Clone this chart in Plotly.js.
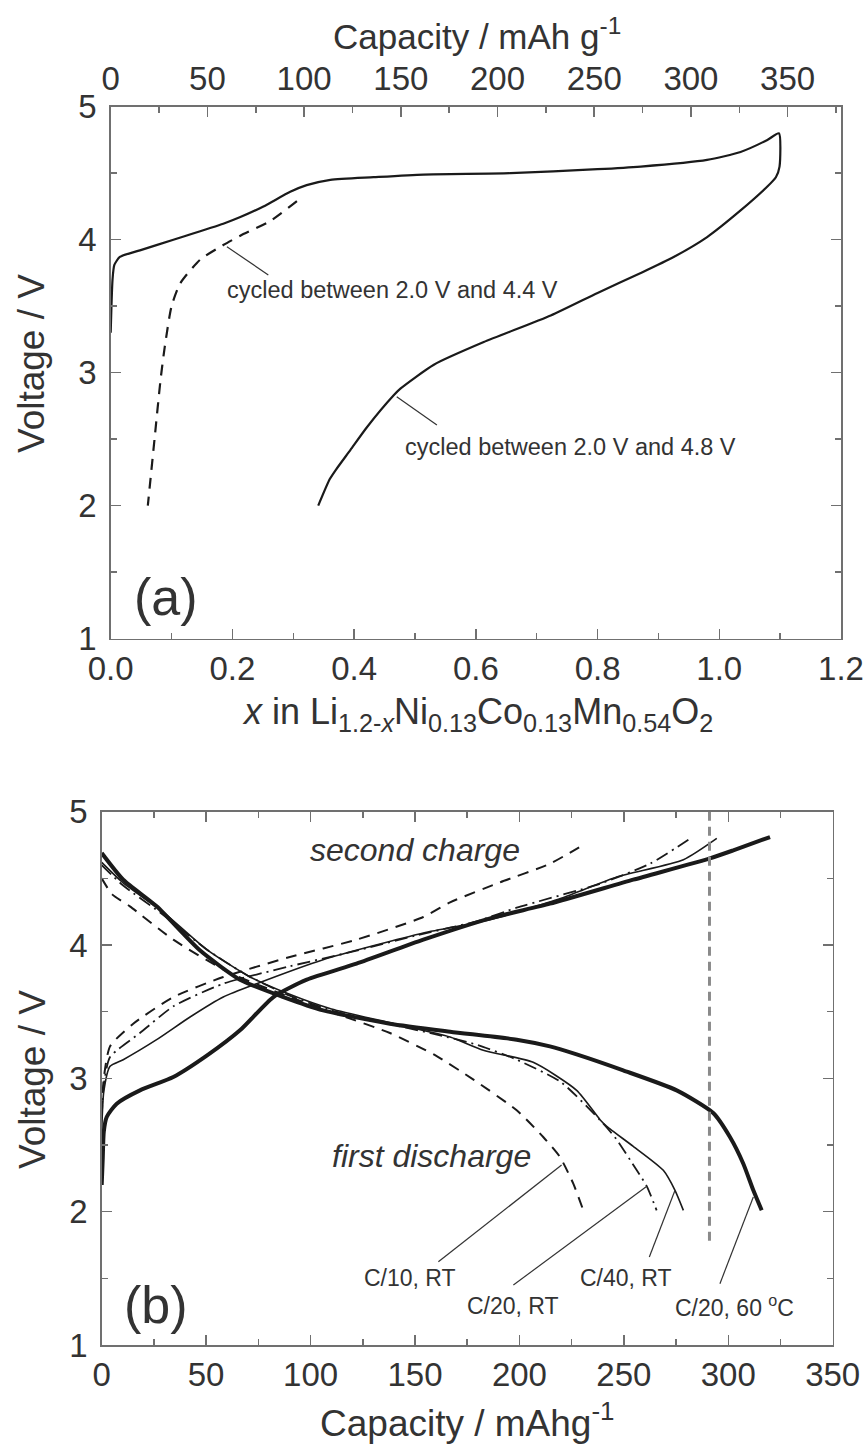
<!DOCTYPE html>
<html><head><meta charset="utf-8">
<script src="https://cdn.plot.ly/plotly-3.0.1.min.js"></script>
<style>html,body{margin:0;padding:0;background:#fff}</style>
</head><body>
<div id="chart" style="width:863px;height:1447px"></div>
<script>
// ---------- Panel (a) data ----------
const a48X = [0, 0.003, 0.006, 0.015, 0.048, 0.103, 0.185, 0.213, 0.251, 0.295, 0.322, 0.361, 0.432, 0.514, 0.657, 0.80, 0.871, 0.98, 1.035, 1.079, 1.098, 1.099, 1.093, 1.079, 1.035, 0.98, 0.925, 0.871, 0.80, 0.723, 0.613, 0.531, 0.476, 0.465, 0.421, 0.394, 0.37, 0.36, 0.341];
const a48V = [3.3, 3.7, 3.81, 3.87, 3.92, 4.0, 4.12, 4.17, 4.25, 4.36, 4.41, 4.45, 4.47, 4.49, 4.5, 4.53, 4.55, 4.6, 4.66, 4.75, 4.8, 4.55, 4.47, 4.40, 4.22, 4.02, 3.87, 3.75, 3.6, 3.43, 3.23, 3.06, 2.88, 2.83, 2.59, 2.42, 2.27, 2.2, 2.0];
const a44X = [0.306, 0.262, 0.213, 0.185, 0.147, 0.114, 0.1, 0.089, 0.082, 0.072, 0.061];
const a44V = [4.29, 4.14, 4.03, 3.96, 3.85, 3.67, 3.5, 3.2, 2.95, 2.5, 2.0];

// ---------- Panel (b) data ----------
const c10DisX = [0, 5, 13.5, 34.3, 61.4, 90.1, 115, 138, 160, 178, 198.7, 211.4, 219.4, 225.8, 230.6];
const c10DisV = [4.5, 4.38, 4.29, 4.04, 3.79, 3.61, 3.47, 3.34, 3.17, 2.99, 2.76, 2.56, 2.41, 2.21, 2.01];
const c10ChX = [0, 1, 4, 15.1, 34.3, 58.2, 90.1, 122, 154, 166.8, 190.7, 214.6, 230.4];
const c10ChV = [2.75, 3.0, 3.24, 3.41, 3.61, 3.76, 3.91, 4.04, 4.21, 4.32, 4.47, 4.61, 4.75];

const c20DisX = [0, 10, 30, 50, 70, 90, 110, 140, 160, 180, 198.7, 220, 240.2, 246.6, 256.2, 261, 265.7];
const c20DisV = [4.6, 4.45, 4.22, 3.97, 3.77, 3.62, 3.51, 3.4, 3.33, 3.25, 3.14, 2.97, 2.66, 2.54, 2.31, 2.19, 2.01];
const c20ChX = [0, 1, 4, 18.3, 34.3, 58.2, 90, 120, 150, 180, 198.7, 238.6, 262.5, 280.9];
const c20ChV = [2.7, 2.95, 3.16, 3.34, 3.54, 3.71, 3.84, 3.95, 4.07, 4.18, 4.28, 4.46, 4.61, 4.79];

const c40DisX = [0, 10, 30, 50, 70, 90, 110, 140, 166.8, 182.7, 206.6, 227.4, 238.6, 241.8, 254.5, 268.9, 274.5, 278.5];
const c40DisV = [4.62, 4.47, 4.24, 3.97, 3.77, 3.63, 3.52, 3.41, 3.31, 3.21, 3.12, 2.91, 2.69, 2.64, 2.49, 2.31, 2.16, 2.01];
const c40ChX = [0, 1, 4, 10.3, 26.3, 42.3, 58.2, 74.2, 106, 154, 186, 220, 246.6, 278.5, 294.5];
const c40ChV = [2.6, 2.9, 3.09, 3.14, 3.29, 3.46, 3.61, 3.71, 3.89, 4.09, 4.19, 4.35, 4.51, 4.64, 4.80];

const h60DisX = [0, 10.3, 26.3, 47, 66.2, 87, 106, 138, 166.8, 198.7, 214.6, 227.4, 249.7, 275.3, 292.8, 300.8, 307.2, 312, 316];
const h60DisV = [4.69, 4.49, 4.29, 3.96, 3.74, 3.61, 3.51, 3.41, 3.35, 3.29, 3.24, 3.18, 3.06, 2.91, 2.74, 2.56, 2.36, 2.16, 2.01];
const h60ChX = [0, 0.5, 1, 2.4, 7.2, 18.3, 34.3, 50.3, 66.2, 82.2, 98.2, 122, 154, 186, 214.6, 254.5, 291.2, 302.4, 320];
const h60ChV = [2.2, 2.4, 2.6, 2.71, 2.81, 2.91, 3.01, 3.17, 3.36, 3.61, 3.74, 3.86, 4.04, 4.2, 4.31, 4.49, 4.65, 4.71, 4.81];

const refLineX = [291, 291];
const refLineV = [5, 1.74];

// tick labels / ranges
const xTicksA = [0, 0.2, 0.4, 0.6, 0.8, 1.0, 1.2];
const xTickTextA = ['0.0', '0.2', '0.4', '0.6', '0.8', '1.0', '1.2'];
const capTopMax = 377.6;   // capacity matching x = 1.2
const capTopTicks = [0, 50, 100, 150, 200, 250, 300, 350];
const capTicksB = [0, 50, 100, 150, 200, 250, 300, 350];
const vTicks = [1, 2, 3, 4, 5];

const INK = '#1a1a1a';
const AXC = '#707070';
const TXT = '#333333';
const FONT = 'Liberation Sans, Arial, sans-serif';

function tr(x, y, xa, ya, width, dash) {
  return {x: x, y: y, xaxis: xa, yaxis: ya, mode: 'lines', type: 'scatter',
    line: {color: INK, width: width, dash: dash || 'solid', shape: 'spline', smoothing: 0.6},
    hoverinfo: 'skip', showlegend: false};
}

const DASH = '11px,8px';
const DASHDOT = '13px,5px,2px,5px';

const data = [
  tr(a48X, a48V, 'x', 'y', 2.2),
  tr(a44X, a44V, 'x', 'y', 2.2, DASH),
  // helper (no visible mark) so the top capacity axis is created
  {x: [0, capTopMax], y: [null, null], xaxis: 'x2', yaxis: 'y', mode: 'lines', type: 'scatter',
   line: {width: 0}, hoverinfo: 'skip', showlegend: false},
  tr(c10DisX, c10DisV, 'x3', 'y3', 2, DASH),
  tr(c10ChX, c10ChV, 'x3', 'y3', 2, DASH),
  tr(c20DisX, c20DisV, 'x3', 'y3', 1.8, DASHDOT),
  tr(c20ChX, c20ChV, 'x3', 'y3', 1.8, DASHDOT),
  tr(c40DisX, c40DisV, 'x3', 'y3', 1.6),
  tr(c40ChX, c40ChV, 'x3', 'y3', 1.6),
  tr(h60DisX, h60DisV, 'x3', 'y3', 4),
  tr(h60ChX, h60ChV, 'x3', 'y3', 4),
  {x: refLineX, y: refLineV, xaxis: 'x3', yaxis: 'y3', mode: 'lines', type: 'scatter',
   line: {color: '#8a8a8a', width: 3, dash: '9px,6px'}, hoverinfo: 'skip', showlegend: false}
];

const W = 863, H = 1447;
function px(v) { return v / W; }
function py(v) { return 1 - v / H; }

const MINOR = {ticks: 'inside', ticklen: 6, tickwidth: 1.5, tickcolor: AXC};
const axBase = {
  showgrid: false, zeroline: false, showline: true, linecolor: AXC, linewidth: 1.5,
  ticks: 'inside', ticklen: 10, tickwidth: 1.5, tickcolor: AXC, ticklabeloverflow: 'allow',
  tickfont: {family: FONT, size: 33, color: TXT}, fixedrange: true
};
function ax(extra) { return Object.assign({}, axBase, extra); }

const layout = {
  width: W, height: H,
  margin: {l: 0, r: 0, t: 0, b: 0},
  paper_bgcolor: '#fff', plot_bgcolor: '#fff',
  showlegend: false,
  xaxis: ax({domain: [px(110.7), px(841)], anchor: 'y', range: [0, 1.2],
    tickmode: 'array', tickvals: xTicksA, ticktext: xTickTextA, mirror: true, ticklabelstandoff: 0,
    minor: Object.assign({dtick: 0.1, tick0: 0}, MINOR)}),
  xaxis2: ax({overlaying: 'x', side: 'top', anchor: 'y', range: [0, capTopMax],
    tickmode: 'array', tickvals: capTopTicks, ticklabelstandoff: 2,
    minor: Object.assign({dtick: 25, tick0: 0}, MINOR)}),
  yaxis: ax({domain: [py(638.7), py(106.7)], anchor: 'x', range: [1, 5],
    tickmode: 'array', tickvals: vTicks, mirror: 'ticks', ticklabelstandoff: 6,
    minor: Object.assign({dtick: 0.5, tick0: 1}, MINOR)}),
  xaxis3: ax({domain: [px(101.7), px(832.7)], anchor: 'y3', range: [0, 350],
    tickmode: 'array', tickvals: capTicksB, mirror: 'ticks', ticklabelstandoff: 0,
    minor: Object.assign({dtick: 25, tick0: 0}, MINOR)}),
  yaxis3: ax({domain: [py(1345), py(811.7)], anchor: 'x3', range: [1, 5],
    tickmode: 'array', tickvals: vTicks, mirror: 'ticks', ticklabelstandoff: 6,
    minor: Object.assign({dtick: 0.5, tick0: 1}, MINOR)}),
  shapes: [
    // panel (a) leaders
    {type: 'line', xref: 'x', yref: 'y', x0: 0.191, y0: 3.947, x1: 0.259, y1: 3.735, line: {color: TXT, width: 1.2}},
    {type: 'line', xref: 'x', yref: 'y', x0: 0.470, y0: 2.82, x1: 0.536, y1: 2.607, line: {color: TXT, width: 1.2}},
    // panel (b) leaders
    {type: 'line', xref: 'x3', yref: 'y3', x0: 161.2, y0: 1.624, x1: 220.2, y1: 2.35, line: {color: TXT, width: 1.2}},
    {type: 'line', xref: 'x3', yref: 'y3', x0: 197.1, y0: 1.45, x1: 261, y1: 2.19, line: {color: TXT, width: 1.2}},
    {type: 'line', xref: 'x3', yref: 'y3', x0: 262.2, y0: 1.66, x1: 274.5, y1: 2.16, line: {color: TXT, width: 1.2}},
    {type: 'line', xref: 'x3', yref: 'y3', x0: 296, y0: 1.46, x1: 312, y1: 2.11, line: {color: TXT, width: 1.2}}
  ],
  annotations: [
    // axis titles
    {xref: 'paper', yref: 'paper', x: px(477), y: py(34), text: 'Capacity / mAh g<sup>-1</sup>', showarrow: false,
     font: {family: FONT, size: 35, color: TXT}, xanchor: 'center', yanchor: 'middle'},
    {xref: 'paper', yref: 'paper', x: px(477), y: py(714),
     text: '<i>x</i> in Li<sub>1.2-<i>x</i></sub>Ni<sub>0.13</sub>Co<sub>0.13</sub>Mn<sub>0.54</sub>O<sub>2</sub>', showarrow: false,
     font: {family: FONT, size: 36, color: TXT}, xanchor: 'center', yanchor: 'middle'},
    {xref: 'paper', yref: 'paper', x: px(32), y: py(364), text: 'Voltage / V', textangle: -90, showarrow: false,
     font: {family: FONT, size: 37, color: TXT}, xanchor: 'center', yanchor: 'middle'},
    {xref: 'paper', yref: 'paper', x: px(32), y: py(1080), text: 'Voltage / V', textangle: -90, showarrow: false,
     font: {family: FONT, size: 37, color: TXT}, xanchor: 'center', yanchor: 'middle'},
    {xref: 'paper', yref: 'paper', x: px(467), y: py(1420), text: 'Capacity / mAhg<sup>-1</sup>', showarrow: false,
     font: {family: FONT, size: 37, color: TXT}, xanchor: 'center', yanchor: 'middle'},
    // panel labels
    {xref: 'x', yref: 'y', x: 0.091, y: 1.31, text: '(a)', showarrow: false,
     font: {family: FONT, size: 52, color: TXT}, xanchor: 'center', yanchor: 'middle'},
    {xref: 'x3', yref: 'y3', x: 26, y: 1.30, text: '(b)', showarrow: false,
     font: {family: FONT, size: 52, color: TXT}, xanchor: 'center', yanchor: 'middle'},
    // panel (a) notes
    {xref: 'x', yref: 'y', x: 0.188, y: 3.62, text: 'cycled between 2.0 V and 4.4 V', showarrow: false,
     font: {family: FONT, size: 23.5, color: TXT}, xanchor: 'left', yanchor: 'middle'},
    {xref: 'x', yref: 'y', x: 0.481, y: 2.44, text: 'cycled between 2.0 V and 4.8 V', showarrow: false,
     font: {family: FONT, size: 23.5, color: TXT}, xanchor: 'left', yanchor: 'middle'},
    // panel (b) notes
    {xref: 'x3', yref: 'y3', x: 98.9, y: 4.71, text: '<i>second charge</i>', showarrow: false,
     font: {family: FONT, size: 32, color: TXT}, xanchor: 'left', yanchor: 'middle'},
    {xref: 'x3', yref: 'y3', x: 109.3, y: 2.42, text: '<i>first discharge</i>', showarrow: false,
     font: {family: FONT, size: 32, color: TXT}, xanchor: 'left', yanchor: 'middle'},
    {xref: 'x3', yref: 'y3', x: 147.5, y: 1.50, text: 'C/10, RT', showarrow: false,
     font: {family: FONT, size: 23, color: TXT}, xanchor: 'center', yanchor: 'middle'},
    {xref: 'x3', yref: 'y3', x: 196.7, y: 1.29, text: 'C/20, RT', showarrow: false,
     font: {family: FONT, size: 23, color: TXT}, xanchor: 'center', yanchor: 'middle'},
    {xref: 'x3', yref: 'y3', x: 250.9, y: 1.50, text: 'C/40, RT', showarrow: false,
     font: {family: FONT, size: 23, color: TXT}, xanchor: 'center', yanchor: 'middle'},
    {xref: 'x3', yref: 'y3', x: 302.8, y: 1.29, text: 'C/20, 60 <sup>o</sup>C', showarrow: false,
     font: {family: FONT, size: 23, color: TXT}, xanchor: 'center', yanchor: 'middle'}
  ]
};

Plotly.newPlot('chart', data, layout, {staticPlot: true, displayModeBar: false});
</script>
</body></html>
